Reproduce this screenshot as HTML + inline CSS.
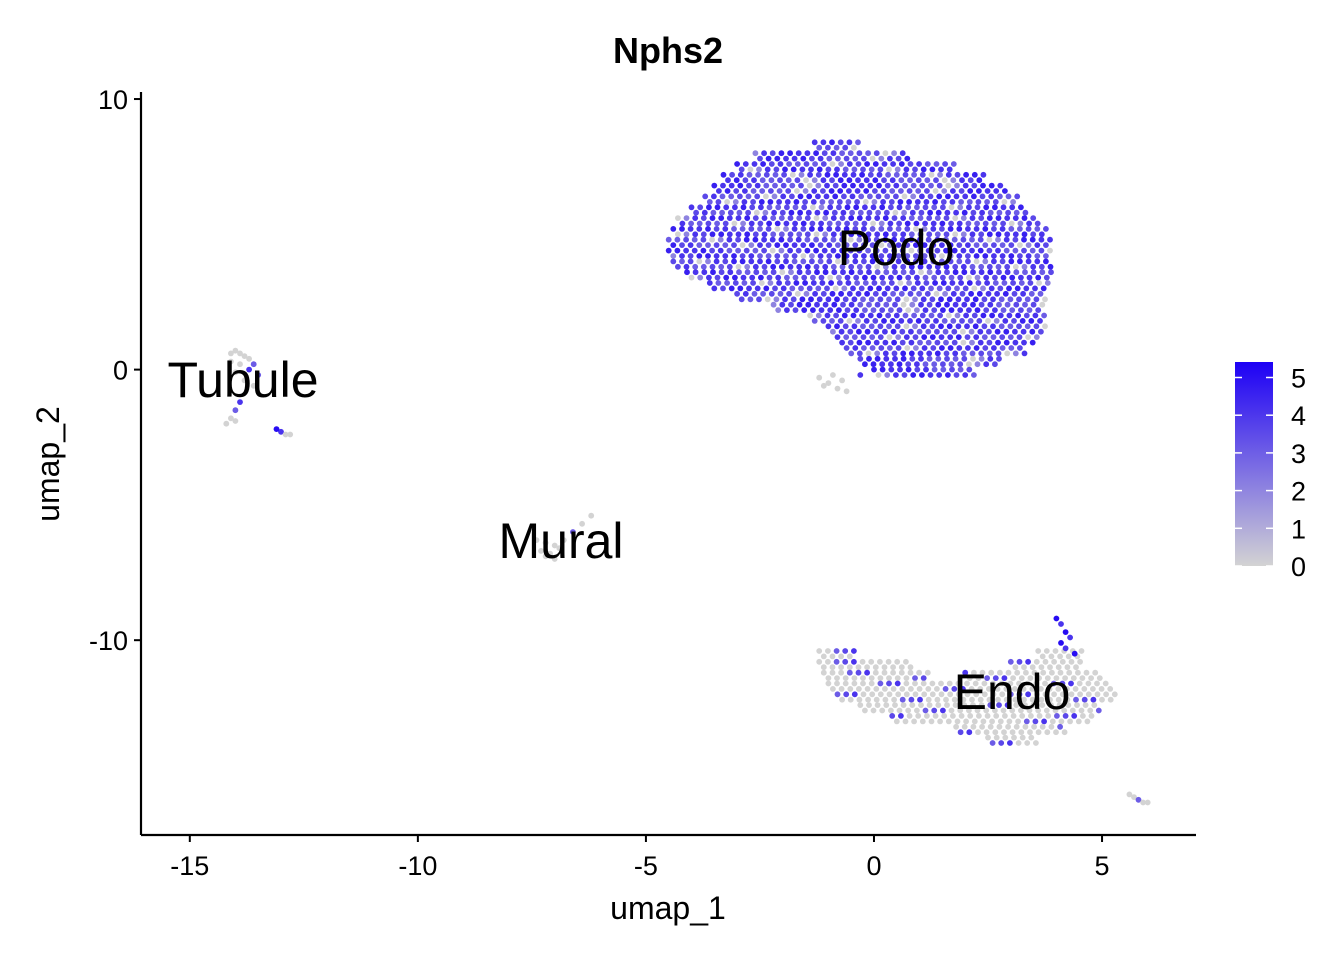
<!DOCTYPE html>
<html><head><meta charset="utf-8"><style>
body{margin:0;background:#fff;font-family:"Liberation Sans",Arial,sans-serif}
svg text{font-family:"Liberation Sans",Arial,sans-serif}
</style></head><body>
<svg id="chart" width="1344" height="960" viewBox="0 0 1344 960" xmlns="http://www.w3.org/2000/svg">
<defs><linearGradient id="cb" x1="0" y1="1" x2="0" y2="0">
<stop offset="0" stop-color="#d3d3d3"/><stop offset="1" stop-color="#1d00f5"/></linearGradient></defs>
<text x="668" y="63" font-size="36" font-weight="bold" text-anchor="middle">Nphs2</text>
<g id="points"></g>
<g id="axes"></g>
<g id="labels"></g>
<g>
<rect x="1235" y="362" width="38" height="204" fill="url(#cb)"/>
<g id="cbticks"></g>
</g>
</svg>
<script>
// Axis domains
const xDomain=[-16.07,7.06], yDomain=[-17.2,10.26];
const xTicks=[-15,-10,-5,0,5], yTicks=[-10,0,10];
const xTickLabels=["-15","-10","-5","0","5"], yTickLabels=["-10","0","10"];
const legendTicks=[0,1,2,3,4,5];
// Cluster row extents: [y, xmin, xmax]
const podoRows=[[8.4,-1.3,-0.3],[8.0,-2.6,0.8],[7.6,-3.0,1.8],[7.2,-3.3,2.4],[6.8,-3.5,2.9],[6.4,-3.7,3.2],[6.0,-4.0,3.4],[5.6,-4.3,3.6],[5.2,-4.4,3.8],[4.8,-4.5,3.9],[4.4,-4.5,3.9],[4.0,-4.4,3.9],[3.6,-4.1,3.9],[3.2,-3.6,3.9],[2.8,-3.0,3.8],[2.4,-2.2,3.7],[2.0,-1.4,3.8],[1.6,-1.0,3.8],[1.2,-0.8,3.6],[0.8,-0.6,3.3],[0.4,-0.3,2.8],[0.0,0.0,2.2]];
const endoRows=[[-10.4,-1.2,-0.4],[-10.4,3.6,4.6],[-10.8,-1.2,0.8],[-10.8,3.0,4.6],[-11.2,-1.1,1.2],[-11.2,2.0,5.0],[-11.6,-1.0,5.2],[-12.0,-0.8,5.3],[-12.4,-0.3,5.0],[-12.8,0.4,4.8],[-13.2,1.8,4.2],[-13.6,2.5,3.6]];
// Individual cells: x, y, expression
const cellX=[-14.1,-14.0,-13.9,-13.8,-13.7,-13.6,-14.1,-13.9,-13.7,-13.5,-14.0,-13.8,-13.6,-13.9,-14.1,-14.0,-14.2,-14.0,-13.0,-12.9,-12.8,-13.1,-7.4,-7.2,-7.0,-6.8,-7.3,-7.1,-6.9,-6.6,-6.4,-6.2,-7.2,-7.0,5.6,5.7,5.8,5.9,6.0,-1.2,-1.0,-0.8,-0.6,-1.1,-0.9,-0.7,-0.3,4.0,4.1,4.2,4.3,4.1,4.2,4.4];
const cellY=[0.6,0.7,0.6,0.5,0.4,0.2,0.3,0.2,0.0,-0.2,-0.1,-0.4,-0.6,-1.2,-1.8,-1.9,-2.0,-1.5,-2.3,-2.4,-2.4,-2.2,-6.3,-6.4,-6.5,-6.3,-6.7,-6.8,-6.6,-6.0,-5.7,-5.4,-6.9,-7.0,-15.7,-15.8,-15.9,-16.0,-16.0,-0.3,-0.5,-0.7,-0.8,-0.6,-0.2,-0.4,-0.2,-9.2,-9.4,-9.7,-9.9,-10.1,-10.3,-10.5];
const cellE=[0,0,0,0,0,3,0,0,4,3,0,0,0,4,0,0,0,3,4,0,0,5,0,0,0,0,0,0,0,3,0,0,0,0,0,0,3,0,0,0,0,0,0,0,0,0,4,5,4,5,4,5,4,5];

const L=141,R=1196,T=92,B=835;
const sx=v=>L+(v-xDomain[0])/(xDomain[1]-xDomain[0])*(R-L);
const sy=v=>B-(v-yDomain[0])/(yDomain[1]-yDomain[0])*(B-T);
const NS="http://www.w3.org/2000/svg";
function mk(tag,a,parent){const e=document.createElementNS(NS,tag);for(const k in a)e.setAttribute(k,a[k]);parent.appendChild(e);return e;}
function col(e){const t=Math.min(e/5.3,1);const lo=[211,211,211],hi=[29,0,245];
return `rgb(${lo.map((c,i)=>Math.round(c+(hi[i]-c)*t)).join(',')})`;}
const pts=document.getElementById('points');
function dot(x,y,e){const c=mk('circle',{cx:sx(x).toFixed(1),cy:sy(y).toFixed(1),r:2.9,fill:col(e)},pts);

}
const podoLevels=[4,3.5,4.5,3,4,3.5,0,4,3,4.5,3,3.5,4,2,4.5,3.5];
const endoLevels=[0,0,0,3.5,0,0,0,0,0,0,4,0,0,0,0,0,3,0,0,0];
let k=0;
function fill(rows,levels){rows.forEach(([y,a,b])=>{
 for(let s=0;s<2;s++){const yy=y-0.2*s,off=s*0.1;
  for(let x=a+off;x<=b;x+=0.19){dot(x,yy,levels[k%levels.length]);k+=7;}}});}
fill(podoRows,podoLevels);
fill(endoRows,endoLevels);
cellX.forEach((x,i)=>dot(x,cellY[i],cellE[i]));

const ax=document.getElementById('axes');
let e=mk('line',{x1:L,y1:T,x2:L,y2:B,stroke:'#000','stroke-width':2.2},ax);
e=mk('line',{x1:L,y1:B,x2:R,y2:B,stroke:'#000','stroke-width':2.2},ax);
xTicks.forEach((v,i)=>{mk('line',{x1:sx(v),y1:B,x2:sx(v),y2:B+7,stroke:'#000','stroke-width':2},ax);
 const t=mk('text',{x:sx(v),y:B+40,'font-size':27,'text-anchor':'middle'},ax);t.textContent=xTickLabels[i];
 });
yTicks.forEach((v,i)=>{mk('line',{x1:L-7,y1:sy(v),x2:L,y2:sy(v),stroke:'#000','stroke-width':2},ax);
 const t=mk('text',{x:L-13,y:sy(v)+10,'font-size':27,'text-anchor':'end'},ax);t.textContent=yTickLabels[i];
 });
let t=mk('text',{x:668,y:919,'font-size':32,'text-anchor':'middle'},ax);t.textContent='umap_1';

t=mk('text',{x:59,y:464,'font-size':32,'text-anchor':'middle',transform:'rotate(-90 59 464)'},ax);t.textContent='umap_2';


const lab=document.getElementById('labels');
[["Podo",896,265],["Tubule",243,397],["Mural",561,558],["Endo",1012,709]].forEach(([s,x,y])=>{
 const t=mk('text',{x:x,y:y,'font-size':50,'text-anchor':'middle'},lab);t.textContent=s;
 });

const cbt=document.getElementById('cbticks');
legendTicks.forEach(v=>{const y=566-v*37.7;
 mk('line',{x1:1235,y1:y,x2:1242,y2:y,stroke:'#fff','stroke-width':1.5},cbt);
 mk('line',{x1:1266,y1:y,x2:1273,y2:y,stroke:'#fff','stroke-width':1.5},cbt);
 const t=mk('text',{x:1291,y:y+10,'font-size':27},cbt);t.textContent=String(v);
 });
</script>
</body></html>
